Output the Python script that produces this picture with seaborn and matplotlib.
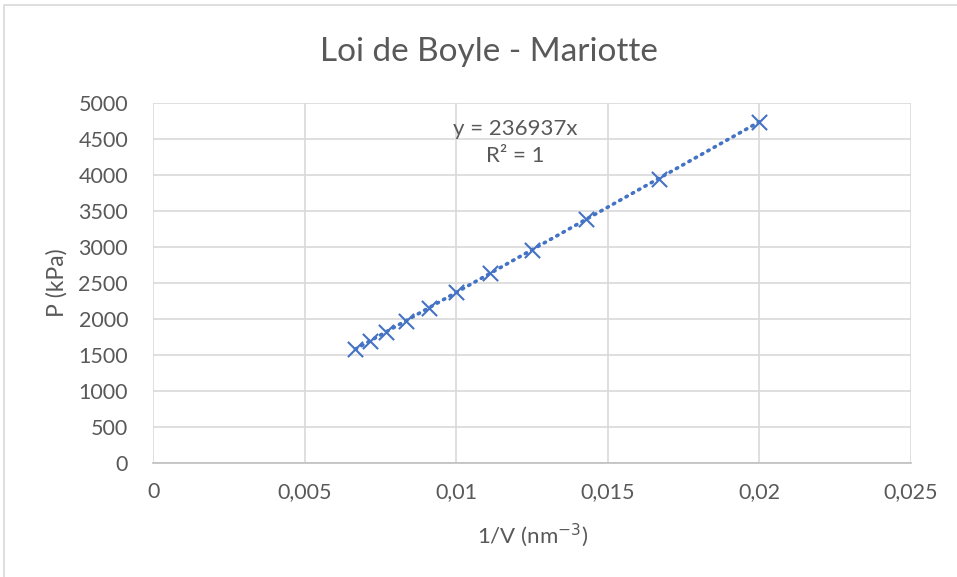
import numpy as np
import pandas as pd
import seaborn as sns
import matplotlib.pyplot as plt
from matplotlib.patches import Rectangle

# donnees
inv_v = [0.00667, 0.00714, 0.00769, 0.00833, 0.00909, 0.0100, 0.0111, 0.0125, 0.01429, 0.01667, 0.0200]
pression = [1580, 1692, 1822, 1975, 2154, 2369, 2633, 2962, 3385, 3949, 4739]
x_ticks = [0, 0.005, 0.01, 0.015, 0.02, 0.025]
x_labels = ["0", "0,005", "0,01", "0,015", "0,02", "0,025"]
y_ticks = list(range(0, 5001, 500))

df = pd.DataFrame({"x": inv_v, "P": pression})

# courbe de tendance lineaire passant par l'origine
pente = np.sum(df["x"] * df["P"]) / np.sum(df["x"] ** 2)
tend = pd.DataFrame({"x": [min(inv_v), max(inv_v)]})
tend["P"] = pente * tend["x"]

sns.set_style("white")
plt.rcParams["font.family"] = ["Lato", "DejaVu Sans"]

bleu = "#4472C4"
gris = "#595959"

fig = plt.figure(figsize=(9.57, 5.77), dpi=100)
ax = fig.add_axes([0.160, 0.1976, 0.792, 0.6239])

fig.patches.append(Rectangle((4 / 957, -0.1), 1.2, (577 - 5) / 577 + 0.1,
                             transform=fig.transFigure, fill=False,
                             edgecolor="#d9d9d9", linewidth=1.2))

sns.lineplot(data=tend, x="x", y="P", ax=ax, color=bleu, linewidth=2.6,
             linestyle=(0, (0.4, 1.6)), dash_capstyle="round")
ax.lines[-1].set_dash_capstyle("round")
sns.scatterplot(data=df, x="x", y="P", ax=ax, marker="x", s=120,
                color=bleu, linewidth=1.5, zorder=3)

ax.set_xlim(0, 0.025)
ax.set_ylim(0, 5000)
ax.set_xticks(x_ticks)
ax.set_xticklabels(x_labels)
ax.set_yticks(y_ticks)
ax.grid(True, color="#d9d9d9", linewidth=1.2)
ax.set_axisbelow(True)
for s in ["top", "right", "left"]:
    ax.spines[s].set_visible(False)
ax.spines["bottom"].set_color("#bfbfbf")
ax.spines["bottom"].set_linewidth(1.2)
ax.tick_params(axis="both", length=0, labelsize=15.5, colors=gris)
ax.tick_params(axis="x", pad=14)
ax.tick_params(axis="y", pad=18)

ax.set_xlabel("1/V (nm$^{-3}$)", fontsize=16, color=gris, labelpad=14)
ax.set_ylabel("P (kPa)", fontsize=16.5, color=gris, labelpad=8)
fig.text(489 / 957, (577 - 52) / 577, "Loi de Boyle - Mariotte",
         ha="center", va="center", fontsize=24, color=gris)

ax.text(0.01194, 4450, "y = 236937x\nR² = 1", ha="center", va="center",
        fontsize=16, color=gris, linespacing=1.45)

fig.savefig("out.png", dpi=100)
